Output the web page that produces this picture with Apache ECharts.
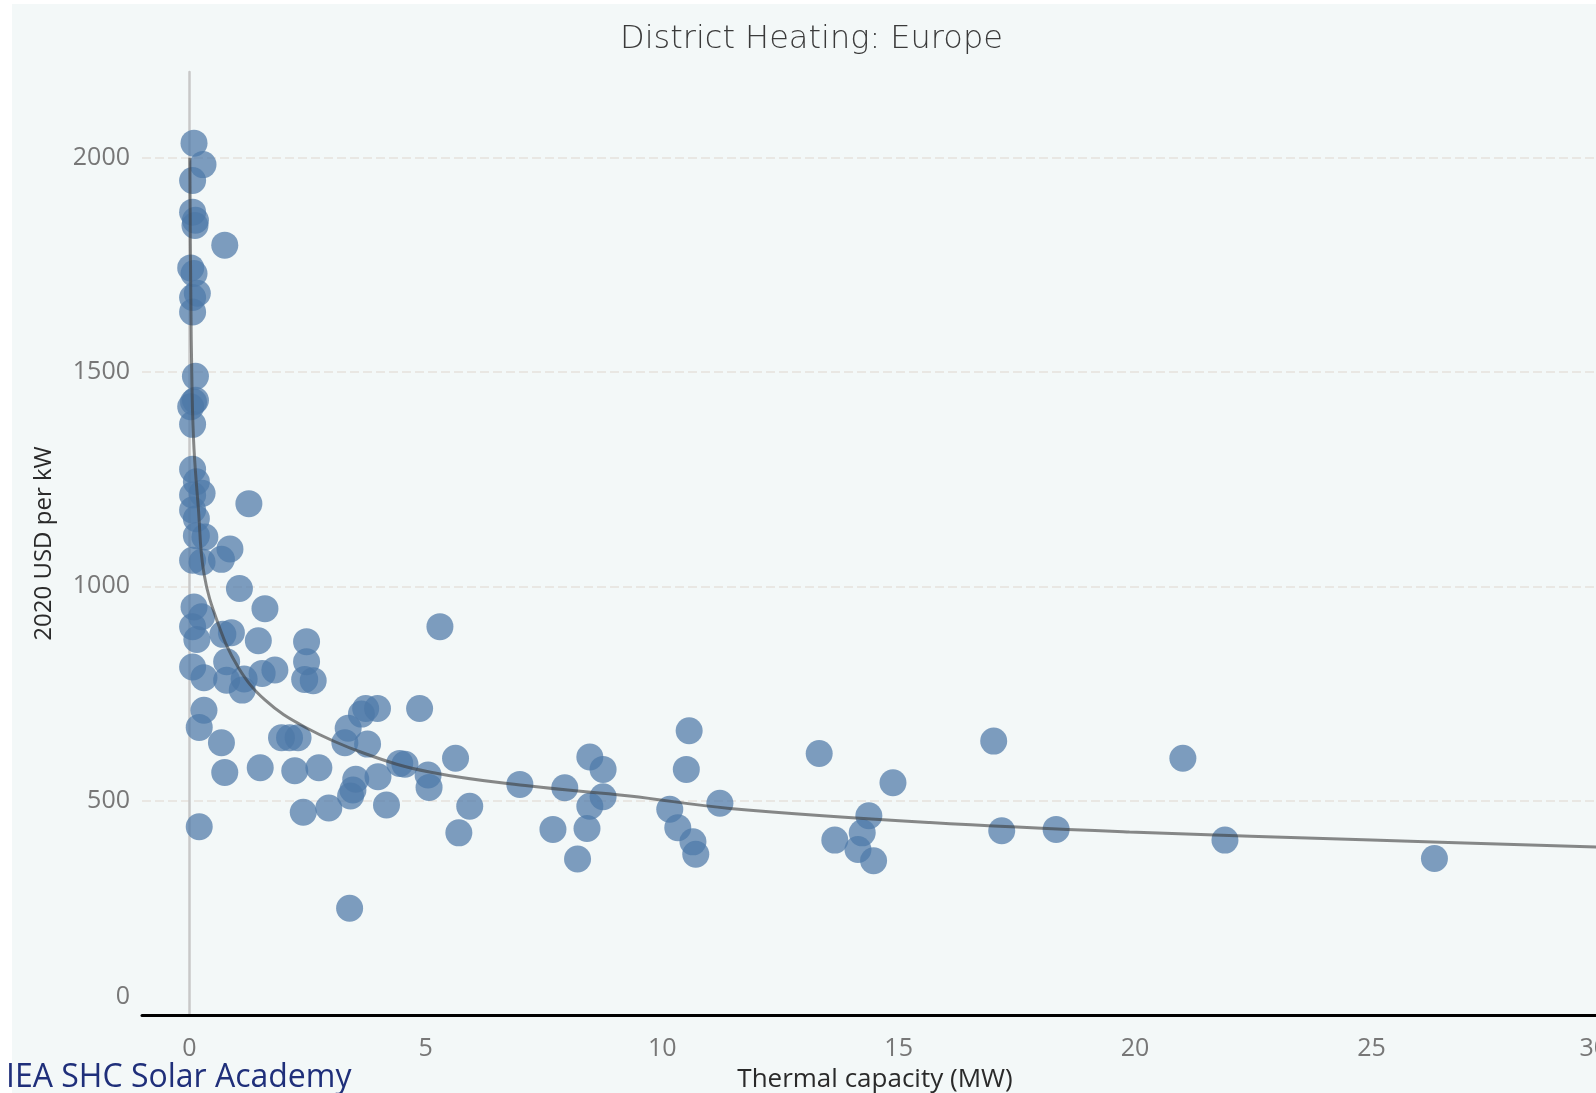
<!DOCTYPE html>
<html lang="en">

<head>
    <meta charset="UTF-8">
    <title>District Heating: Europe</title>
    <script src="https://cdn.jsdelivr.net/npm/echarts@6/dist/echarts.min.js"></script>
    <style>
        body { margin: 0; background: #fff; }
        #wrap { position: relative; width: 1596px; height: 1093px; overflow: hidden; }
        #panel { position: absolute; left: 12px; top: 4px; right: 0; bottom: 0; background: #f3f8f8; }
        #main { position: absolute; left: 0; top: 0; width: 1596px; height: 1093px; }
    </style>
</head>

<body>
    <div id="wrap">
        <div id="panel"></div>
        <div id="main"></div>
    </div>

    <script>
        // thermal capacity (MW) of each plant
        let capX = [
            0.10, 0.29, 0.07, 0.07, 0.13, 0.12, 0.75, 0.03, 0.10, 0.17, 0.07, 0.07, 0.13, 0.13, 0.09, 0.03, 0.07,
            0.07, 0.15, 0.27, 0.07, 0.07, 0.15, 1.26, 0.15, 0.33, 0.86, 0.68, 0.07, 0.27, 1.06, 1.60, 0.10,
            0.26, 0.07, 0.16, 0.71, 0.89, 1.46, 2.48, 2.48, 0.07, 0.79, 0.31, 0.79, 1.16, 1.12, 1.54, 1.81,
            2.44, 2.62, 0.31, 0.21, 0.68, 0.75, 1.50, 1.95, 2.12, 2.30, 2.23, 2.74, 2.41, 2.95, 0.21,
            5.30, 3.73, 3.98, 3.64, 3.36, 3.29, 3.77, 4.87, 4.45, 4.56, 5.05, 5.07, 5.63, 3.52, 3.46, 3.41,
            3.99, 4.17, 5.93, 5.70, 3.39, 6.99, 7.94, 7.69, 8.47, 8.75, 8.75, 8.47, 8.41, 8.21,
            10.57, 10.51, 11.22, 10.16, 10.33, 10.65, 10.71,
            13.32, 14.88, 14.37, 14.23, 13.65, 14.14, 14.47, 17.01, 17.18, 18.33,
            21.01, 21.90, 26.33
        ];
        // cost in 2020 USD per kW
        let costY = [
            2034, 1984, 1947, 1873, 1854, 1842, 1796, 1743, 1730, 1684, 1674, 1640, 1490, 1434, 1430, 1419, 1378,
            1273, 1244, 1217, 1213, 1178, 1158, 1193, 1118, 1115, 1087, 1063, 1061, 1057, 995, 948, 952,
            929, 906, 876, 888, 892, 873, 871, 824, 812, 824, 787, 781, 784, 758, 797, 805,
            783, 780, 711, 671, 635, 566, 577, 647, 647, 647, 570, 577, 473, 483, 439,
            906, 715, 715, 702, 669, 635, 632, 715, 587, 585, 560, 531, 599, 550, 525, 511,
            556, 490, 487, 425, 249, 538, 530, 433, 602, 573, 509, 487, 435, 364,
            663, 573, 494, 480, 437, 404, 375,
            610, 542, 465, 425, 408, 386, 360, 639, 430, 433,
            599, 408, 365
        ];

        // trend line
        let trendX = [0.012, 0.03, 0.06, 0.1, 0.19, 0.31, 0.61, 1.03, 1.6, 2.44, 3.71, 5.08, 7.2, 9.31, 11.43, 15.66, 19.88, 25, 30];
        let trendY = [2000, 1700, 1450, 1320, 1185, 1030, 913, 812, 735, 672, 610, 567, 534, 511, 482, 449, 427, 408, 391];

        let xTicks = [0, 5, 10, 15, 20, 25, 30];

        let points = capX.map(function (x, i) { return [x, costY[i]]; });
        let trend = trendX.map(function (x, i) { return [x, trendY[i]]; });

        var myChart = echarts.init(document.getElementById('main'));

        var font = 'Open Sans';

        var option = {
            animation: false,
            title: {
                text: 'District Heating: Europe',
                left: 615,
                top: 19,
                textStyle: { fontFamily: 'DejaVu Sans', fontSize: 32, fontWeight: 300, color: '#3a3a3a' }
            },
            grid: {
                left: 142,
                right: -12,
                top: 72,
                bottom: 78,
                outerBoundsMode: 'none'
            },
            xAxis: {
                type: 'value',
                min: -1,
                max: 30,
                interval: 1,
                name: 'Thermal capacity (MW)',
                nameLocation: 'middle',
                nameGap: 52,
                nameTextStyle: { fontFamily: font, fontSize: 26, color: '#2a2a2a' },
                axisLine: { onZero: false, lineStyle: { color: '#000', width: 3 } },
                axisTick: { show: false },
                splitLine: { show: false },
                axisLabel: {
                    margin: 21,
                    fontFamily: font,
                    fontSize: 25,
                    color: '#777',
                    alignMaxLabel: 'right',
                    formatter: function (v) {
                        return xTicks.indexOf(v) >= 0 ? String(v) : '';
                    }
                }
            },
            yAxis: {
                type: 'value',
                min: 0,
                max: 2200,
                interval: 500,
                name: '2020 USD per kW',
                nameLocation: 'middle',
                nameRotate: 90,
                nameGap: 86,
                nameTextStyle: { fontFamily: font, fontSize: 24, color: '#2a2a2a' },
                axisLine: { show: true, onZero: true, lineStyle: { color: '#c8c8c8', width: 2.5 } },
                axisTick: { show: false },
                axisLabel: {
                    margin: 12,
                    fontFamily: font,
                    fontSize: 25,
                    color: '#777',
                    showMaxLabel: false,
                    formatter: function (v) {
                        return v === 0 ? '{z|0}' : String(v);
                    },
                    rich: {
                        z: { padding: [0, 0, 36, 0], fontFamily: font, fontSize: 25, color: '#777' }
                    }
                },
                splitLine: {
                    show: true,
                    showMaxLine: false,
                    lineStyle: { color: '#e9e7e3', width: 2, type: [9, 4] }
                }
            },
            graphic: [{
                type: 'text',
                left: 6,
                top: 1062,
                z: 100,
                style: {
                    text: 'IEA SHC Solar Academy',
                    fontFamily: font,
                    fontSize: 32,
                    fill: '#1f2f7a'
                }
            }],
            series: [
                {
                    name: 'plants',
                    type: 'scatter',
                    symbolSize: 27,
                    itemStyle: { color: '#4e79a7', opacity: 0.72 },
                    data: points
                },
                {
                    name: 'trend',
                    type: 'line',
                    smooth: 0.4,
                    showSymbol: false,
                    z: 5,
                    lineStyle: { color: 'rgba(60,60,60,0.6)', width: 3 },
                    data: trend
                }
            ]
        };

        myChart.setOption(option);
    </script>
</body>

</html>
